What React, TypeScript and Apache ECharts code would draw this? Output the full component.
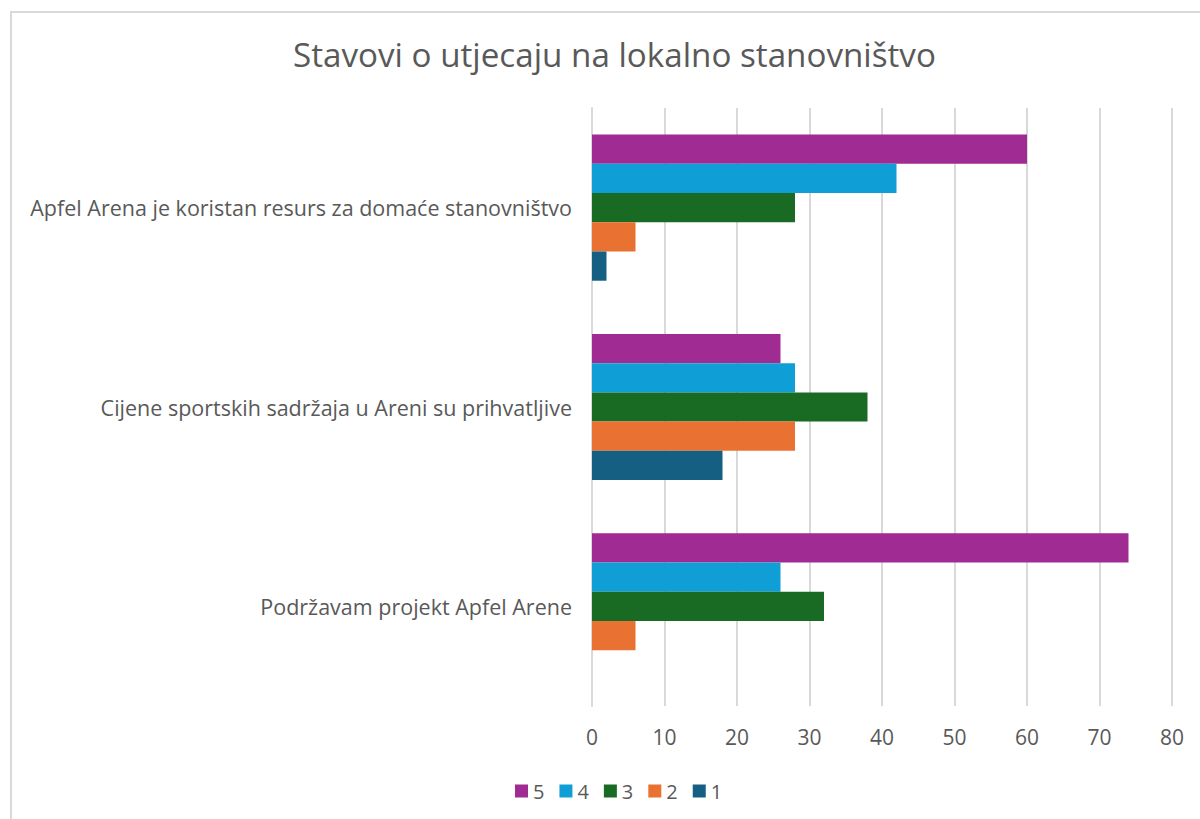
import React, { useEffect, useRef } from "react";
import * as echarts from "echarts";

const categories = [
  "Apfel Arena je koristan resurs za domaće stanovništvo",
  "Cijene sportskih sadržaja u Areni su prihvatljive",
  "Podržavam projekt Apfel Arene",
];
const seriesNames = ["5", "4", "3", "2", "1"];
const values5 = [60, 26, 74];
const values4 = [42, 28, 26];
const values3 = [28, 38, 32];
const values2 = [6, 28, 6];
const values1 = [2, 18, 0];
const colors = ["#A02B93", "#0F9ED5", "#196B24", "#E97132", "#156082"];
const titleText = "Stavovi o utjecaju na lokalno stanovništvo";

export default function App() {
  const ref = useRef<HTMLDivElement>(null);
  useEffect(() => {
    document.body.style.margin = "0";
    const chart = echarts.init(ref.current!, null, { renderer: "svg" });
    const all = [values5, values4, values3, values2, values1];
    const font = "Open Sans, Roboto, sans-serif";
    chart.setOption({
      animation: false,
      backgroundColor: "#ffffff",
      title: {
        text: titleText,
        left: 288,
        top: 33,
        textStyle: { color: "#595959", fontSize: 33.2, fontWeight: "normal", fontFamily: font },
      },
      graphic: [
        {
          type: "rect",
          shape: { x: 11, y: 12, width: 1300, height: 900 },
          style: { fill: "none", stroke: "#d9d9d9", lineWidth: 2 },
          silent: true,
          z: -1,
        },
      ],
      legend: {
        data: seriesNames,
        top: 776,
        left: 510,
        itemWidth: 13,
        itemHeight: 13,
        itemGap: 15,
        icon: "rect",
        textStyle: { color: "#595959", fontSize: 20, fontFamily: font },
      },
      grid: { left: 592, right: 28, top: 108, bottom: 113, containLabel: false },
      xAxis: {
        type: "value",
        min: 0,
        max: 80,
        interval: 10,
        axisLine: { show: false },
        axisTick: { show: false },
        splitLine: { show: true, lineStyle: { color: "#d9d9d9", width: 2 } },
        axisLabel: { color: "#595959", fontSize: 21, fontFamily: font, margin: 20 },
      },
      yAxis: {
        type: "category",
        data: categories,
        inverse: true,
        axisLine: { show: true, lineStyle: { color: "#d9d9d9", width: 2 } },
        axisTick: { show: false },
        axisLabel: { color: "#595959", fontSize: 21.5, fontFamily: font, margin: 20 },
      },
      series: seriesNames.map((n, i) => ({
        name: n,
        type: "bar",
        data: all[i],
        barGap: "0%",
        barCategoryGap: "26.7%",
        itemStyle: { color: colors[i] },
      })),
    });
    return () => chart.dispose();
  }, []);
  return <div ref={ref} style={{ width: 1200, height: 819 }} />;
}
